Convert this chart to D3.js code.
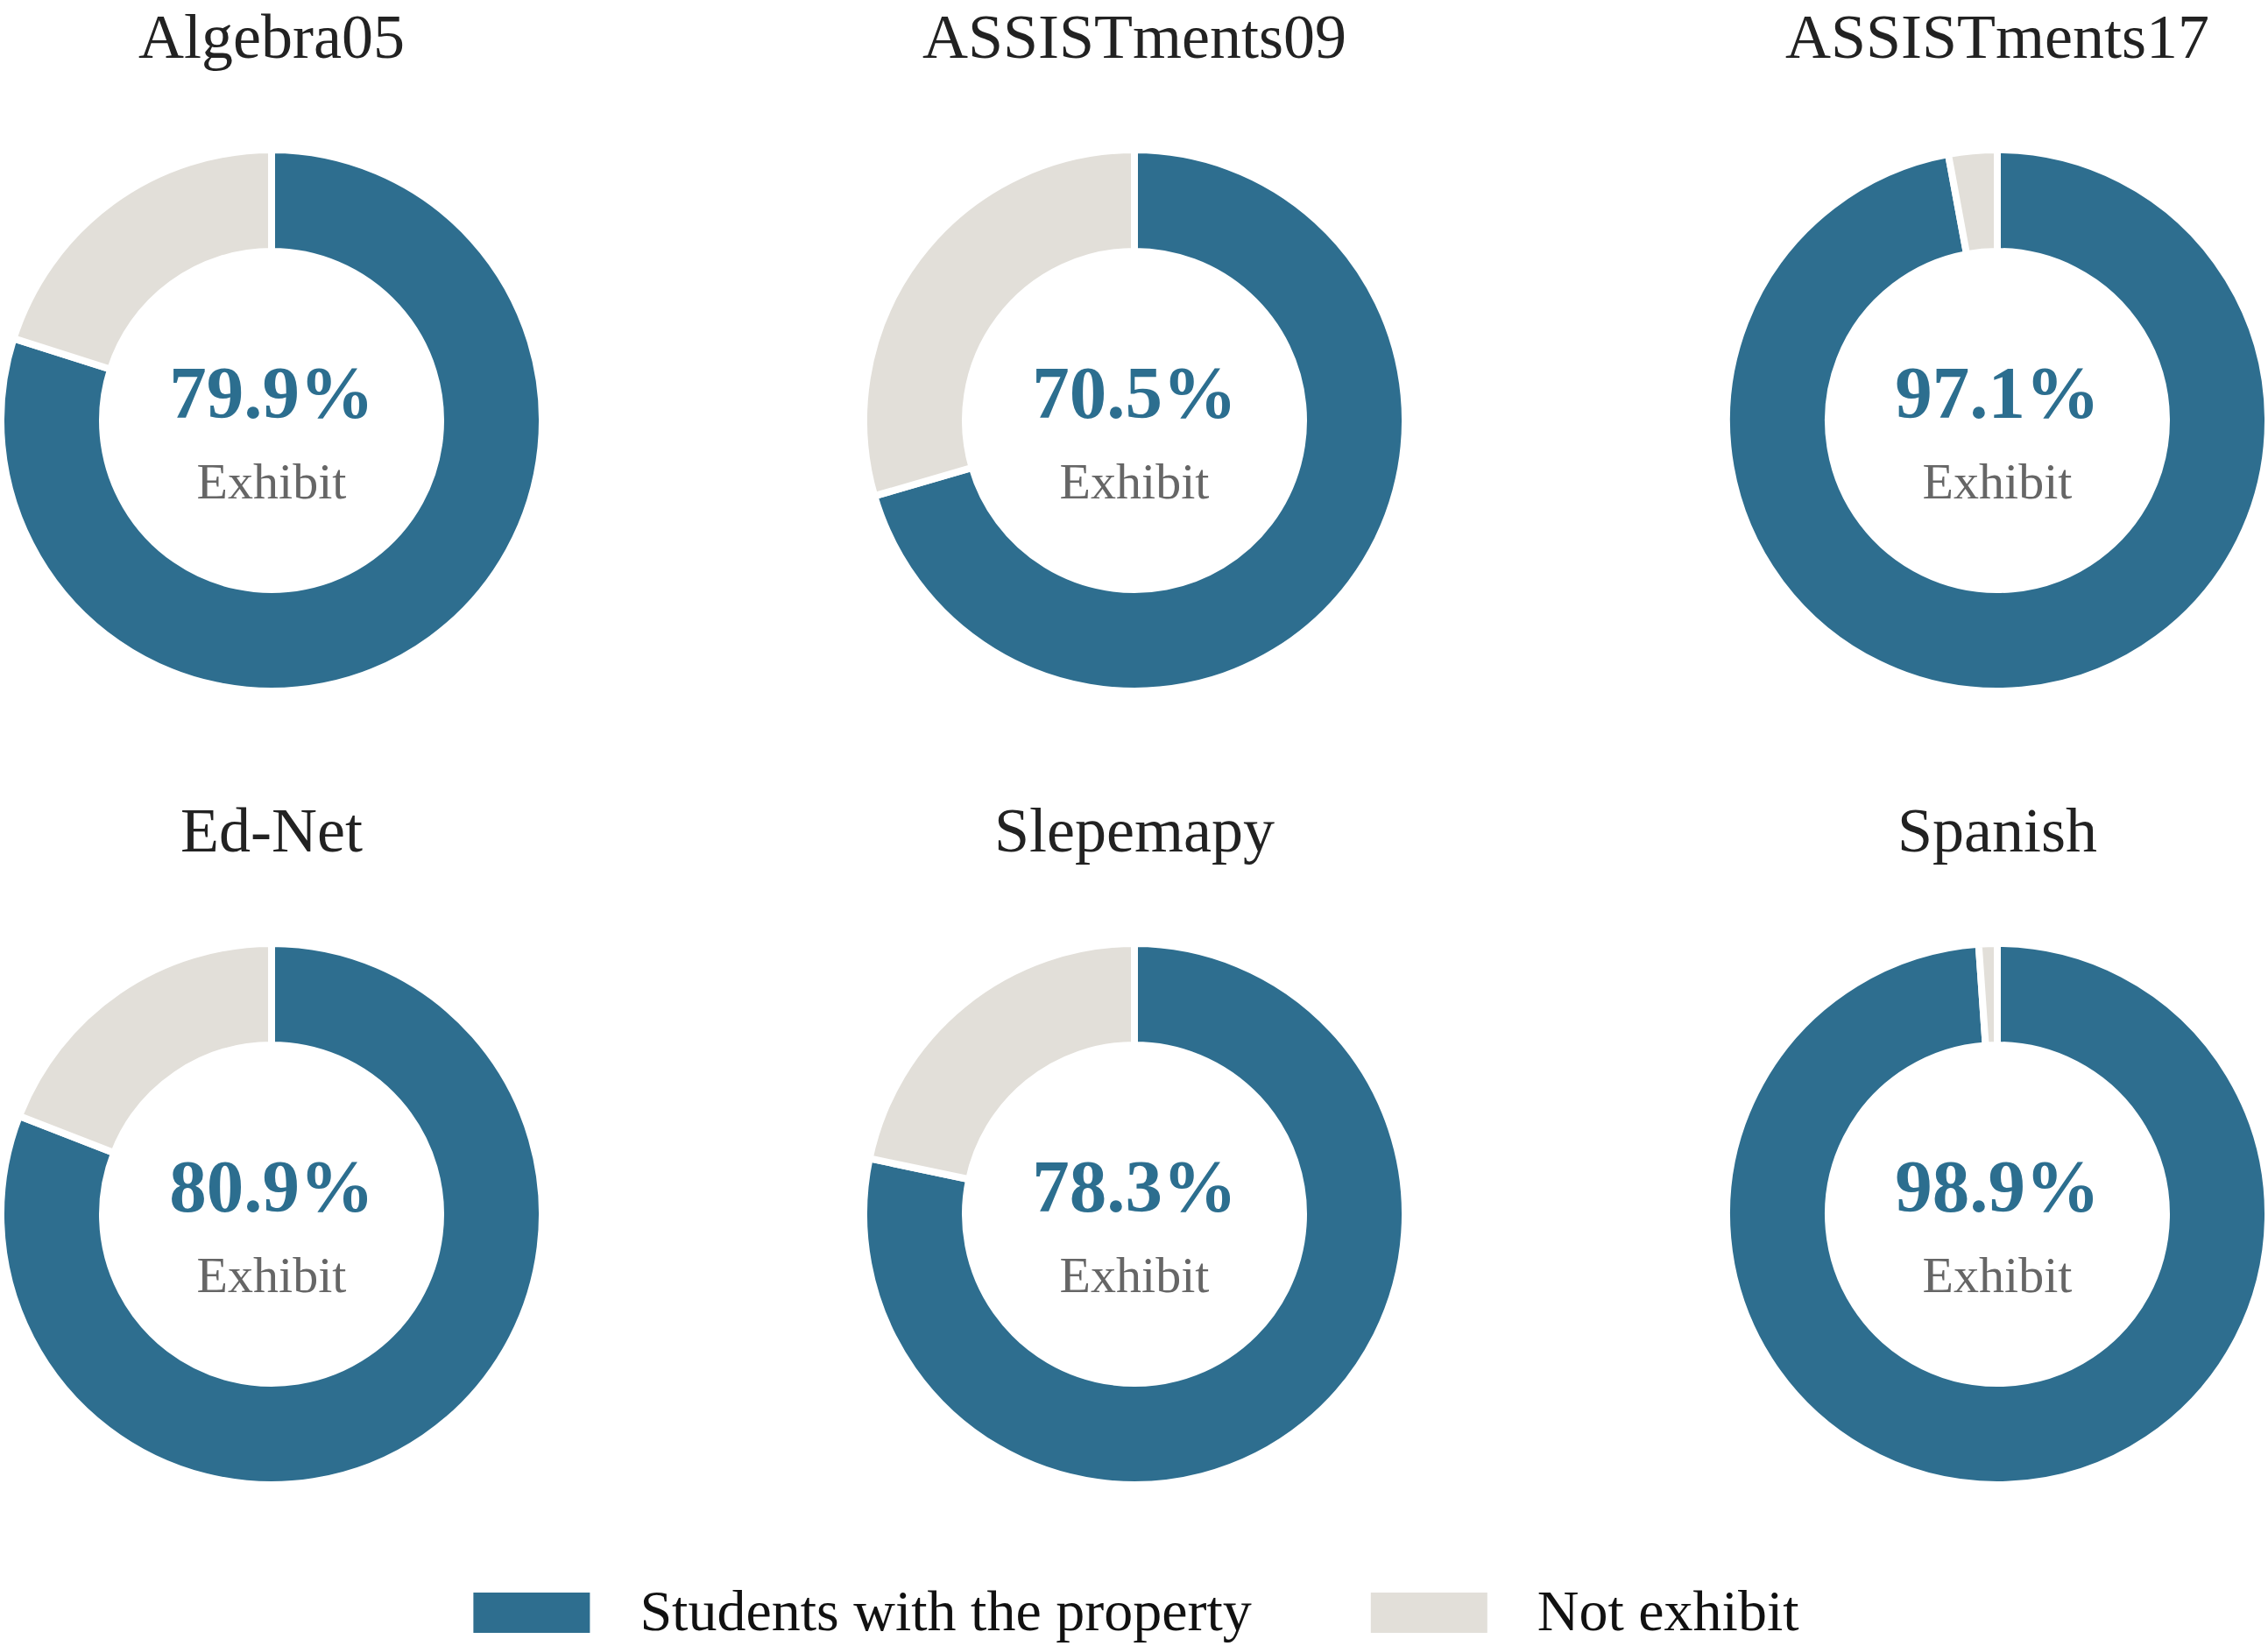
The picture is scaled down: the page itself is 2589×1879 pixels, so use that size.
<!DOCTYPE html>
<html lang="en">
<head>
    <meta charset="UTF-8">
    <title>Donut grid</title>
    <style>
        body { margin: 0; padding: 0; background: #fff; overflow: hidden; }
        svg { display: block; }
    </style>
</head>
<body>
    <script src="https://d3js.org/d3.v7.min.js"></script>
    <script>
        // Data
        const datasets = ["Algebra05", "ASSISTments09", "ASSISTments17", "Ed-Net", "Slepemapy", "Spanish"];
        const exhibitPct = [79.9, 70.5, 97.1, 80.9, 78.3, 98.9];
        const seriesNames = ["Students with the property", "Not exhibit"];
        const centerLabel = "Exhibit";

        const width = 2589, height = 1879;
        const colors = ["#2e6e8f", "#e2dfd9"];
        const font = "'Liberation Serif', 'Times New Roman', serif";

        const svg = d3.select("body").append("svg")
            .attr("width", width)
            .attr("height", height);

        // grid positions
        const x = d3.scalePoint().domain([0, 1, 2]).range([310, 2280]);
        const y = d3.scalePoint().domain([0, 1]).range([480, 1386]);

        const outerR = 309, innerR = 193;
        const pie = d3.pie().sort(null).value(d => d);
        const arc = d3.arc().innerRadius(innerR).outerRadius(outerR);

        datasets.forEach((name, i) => {
            const cx = x(i % 3), cy = y(Math.floor(i / 3));
            const g = svg.append("g").attr("transform", `translate(${cx},${cy})`);

            g.selectAll("path")
                .data(pie([exhibitPct[i], 100 - exhibitPct[i]]))
                .enter().append("path")
                .attr("d", arc)
                .attr("fill", (d, j) => colors[j])
                .attr("stroke", "#fff")
                .attr("stroke-width", 8)
                .attr("stroke-linejoin", "miter");

            // title (kept low enough that the font box stays on the page)
            g.append("text")
                .attr("y", -414)
                .attr("text-anchor", "middle")
                .attr("font-family", font)
                .attr("font-size", 72)
                .attr("fill", "#222")
                .text(name);

            // centre labels
            g.append("text")
                .attr("y", -3)
                .attr("text-anchor", "middle")
                .attr("font-family", font)
                .attr("font-weight", "bold")
                .attr("font-size", 85)
                .attr("fill", "#2c6e8f")
                .text(exhibitPct[i].toFixed(1) + "%");

            g.append("text")
                .attr("y", 89)
                .attr("text-anchor", "middle")
                .attr("font-family", font)
                .attr("font-size", 58)
                .attr("fill", "#666")
                .text(centerLabel);
        });

        // legend
        const legend = svg.append("g");
        const rectW = 133, rectH = 46, gapText = 57, gapItem = 136;
        let lx = 0;
        seriesNames.forEach((s, j) => {
            legend.append("rect")
                .attr("x", lx).attr("y", 1818)
                .attr("width", rectW).attr("height", rectH)
                .attr("fill", colors[j]);
            lx += rectW + gapText;
            const t = legend.append("text")
                .attr("x", lx).attr("y", 1861)
                .attr("font-family", font)
                .attr("font-size", 66)
                .attr("fill", "#111")
                .text(s);
            lx += t.node().getComputedTextLength() + gapItem;
        });
        lx -= gapItem;
        legend.attr("transform", `translate(${1297 - lx / 2},0)`);
    </script>
</body>
</html>
